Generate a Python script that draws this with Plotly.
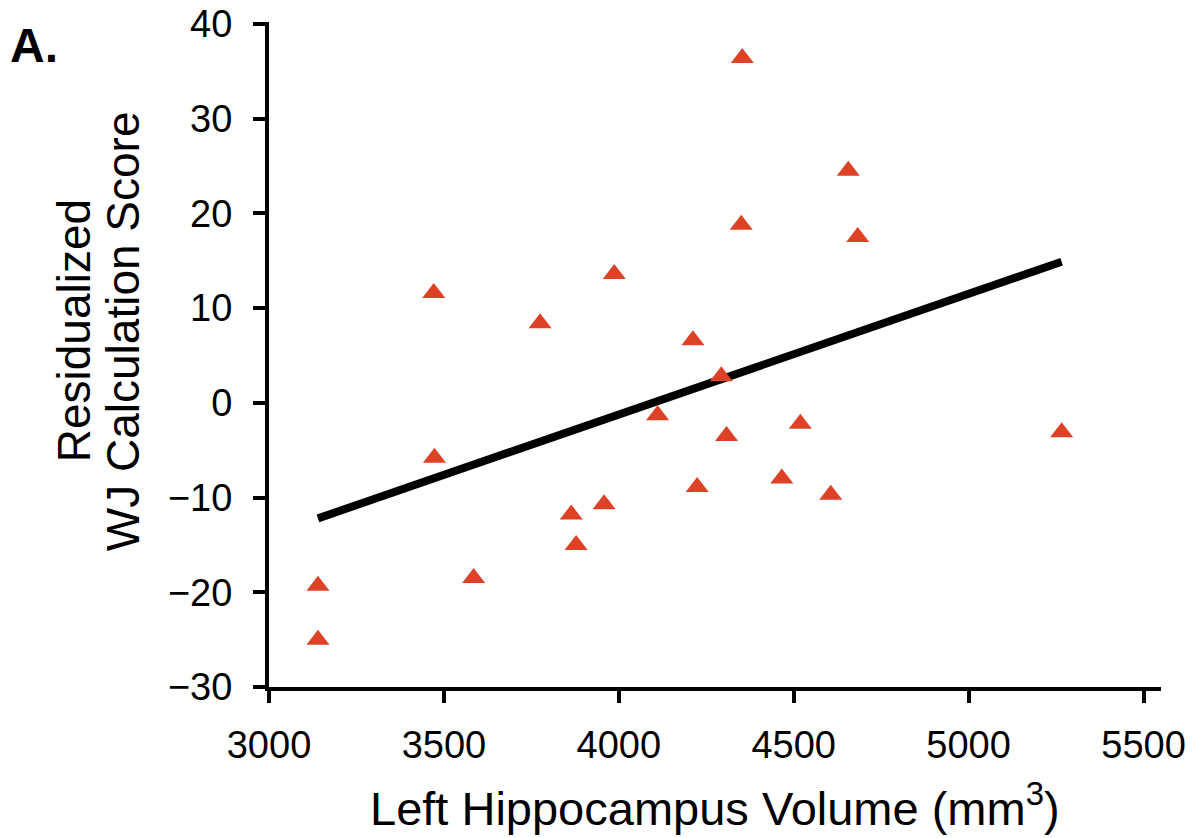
import plotly.graph_objects as go

# Data
volume_mm3 = [3140, 3140, 3473, 3471, 3585, 3775, 3864, 3878, 3958, 3987, 4111, 4212,
              4224, 4293, 4308, 4350, 4353, 4466, 4519, 4606, 4656, 4683, 5266]
wj_residual = [-19.3, -25.0, -5.8, 11.6, -18.5, 8.4, -11.8, -15.0, -10.7, 13.6, -1.3, 6.6,
               -8.9, 2.8, -3.5, 18.8, 36.4, -8.0, -2.2, -9.7, 24.5, 17.5, -3.1]
fit_x = [3140, 5266]
fit_y = [-12.2, 14.9]

x_ticks = [3000, 3500, 4000, 4500, 5000, 5500]
y_ticks = [-30, -20, -10, 0, 10, 20, 30, 40]
y_ticklabels = ["\u221230", "\u221220", "\u221210", "0", "10", "20", "30", "40"]

FONT = "Liberation Sans, Arial, Helvetica, sans-serif"

fig = go.Figure()
fig.add_trace(go.Scatter(
    x=fit_x, y=fit_y, mode="lines",
    line=dict(color="black", width=8),
    hoverinfo="skip", showlegend=False,
))
fig.add_trace(go.Scatter(
    x=volume_mm3, y=wj_residual, mode="markers",
    marker=dict(symbol="triangle-up", size=20, color="#DD4126", line=dict(width=0)),
    showlegend=False,
))

axis_common = dict(
    showline=True, linecolor="black", linewidth=4,
    ticks="outside", ticklen=12, tickwidth=4, tickcolor="black",
    showgrid=False, zeroline=False, automargin=False,
    tickfont=dict(family=FONT, size=38, color="black"),
)

fig.update_layout(
    template="none",
    width=1201, height=838,
    margin=dict(l=269, r=40, t=22, b=151, autoexpand=False),
    paper_bgcolor="white", plot_bgcolor="white",
    xaxis=dict(range=[3000, 5550], tickmode="array", tickvals=x_ticks,
               ticklabelstandoff=9, **axis_common),
    yaxis=dict(range=[-30, 40.2], tickmode="array", tickvals=y_ticks,
               ticktext=y_ticklabels, ticklabelstandoff=13, **axis_common),
    annotations=[
        dict(text="Left Hippocampus Volume (mm<sup>3</sup>)", xref="paper", yref="paper",
             x=0.5, y=-0.178, xanchor="center", yanchor="middle", showarrow=False,
             font=dict(family=FONT, size=47, color="black")),
        dict(text="Residualized", xref="paper", yref="paper",
             x=-0.2186, y=0.535, xanchor="center", yanchor="middle", textangle=-90,
             showarrow=False, font=dict(family=FONT, size=46, color="black")),
        dict(text="WJ Calculation Score", xref="paper", yref="paper",
             x=-0.1637, y=0.535, xanchor="center", yanchor="middle", textangle=-90,
             showarrow=False, font=dict(family=FONT, size=46, color="black")),
        dict(text="<b>A.</b>", xref="paper", yref="paper",
             x=-0.264, y=0.965, xanchor="center", yanchor="middle", showarrow=False,
             font=dict(family=FONT, size=48, color="black")),
    ],
)

fig.write_html("out.html", config={"displayModeBar": False},
               post_script="document.body.style.margin='0';")
